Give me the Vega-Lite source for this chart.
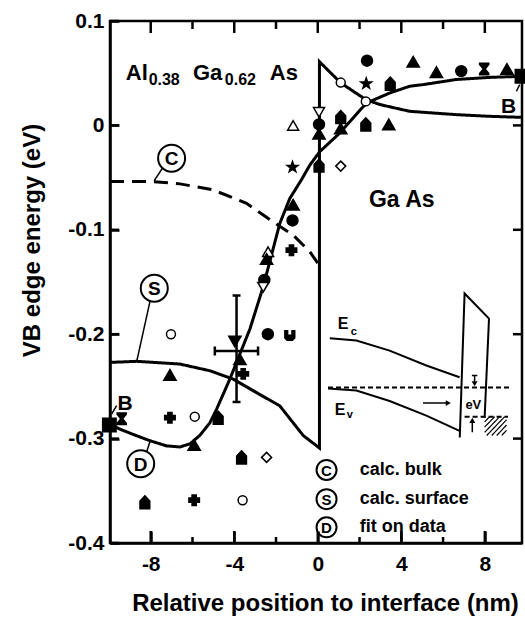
{
  "$schema": "https://vega.github.io/schema/vega-lite/v6.json",
  "width": 412,
  "height": 522,
  "autosize": {"type": "none"},
  "padding": {"left": 110, "top": 21, "right": 3, "bottom": 77},
  "background": "white",
  "config": {
    "view": {"stroke": "black", "strokeWidth": 2.5, "fill": null},
    "font": "Liberation Sans",
    "axis": {"labelFont": "Liberation Sans", "titleFont": "Liberation Sans", "labelColor": "black", "titleColor": "black", "grid": false, "domainColor": "black", "domainWidth": 2.5}
  },
  "datasets": {
    "xticks": [
      {"v": -8, "kind": "major"}, {"v": -6, "kind": "minor"}, {"v": -4, "kind": "major"}, {"v": -2, "kind": "minor"},
      {"v": 0, "kind": "major"}, {"v": 2, "kind": "minor"}, {"v": 4, "kind": "major"}, {"v": 6, "kind": "minor"}, {"v": 8, "kind": "major"}
    ],
    "yticks": [
      {"v": 0.1, "side": "left"}, {"v": 0, "side": "both"}, {"v": -0.1, "side": "both"}, {"v": -0.2, "side": "both"}, {"v": -0.3, "side": "both"}, {"v": -0.4, "side": "left"}
    ],
    "curves": [
      {"curve": "C", "order": 1, "x": -9.95, "y": -0.0538},
      {"curve": "C", "order": 2, "x": -7.88, "y": -0.0538},
      {"curve": "C", "order": 3, "x": -6.6, "y": -0.056},
      {"curve": "C", "order": 4, "x": -5.01, "y": -0.0618},
      {"curve": "C", "order": 5, "x": -3.41, "y": -0.0747},
      {"curve": "C", "order": 6, "x": -2.14, "y": -0.0923},
      {"curve": "C", "order": 7, "x": -1.18, "y": -0.105},
      {"curve": "C", "order": 8, "x": -0.38, "y": -0.121},
      {"curve": "C", "order": 9, "x": 0.0, "y": -0.132},
      {"curve": "S", "order": 1, "x": -9.95, "y": -0.227},
      {"curve": "S", "order": 2, "x": -8.67, "y": -0.226},
      {"curve": "S", "order": 3, "x": -6.6, "y": -0.2286},
      {"curve": "S", "order": 4, "x": -5.17, "y": -0.235},
      {"curve": "S", "order": 5, "x": -4.05, "y": -0.243},
      {"curve": "S", "order": 6, "x": -2.93, "y": -0.256},
      {"curve": "S", "order": 7, "x": -1.82, "y": -0.2686},
      {"curve": "S", "order": 8, "x": -0.7, "y": -0.297},
      {"curve": "S", "order": 9, "x": 0.08, "y": -0.309},
      {"curve": "S", "order": 10, "x": 0.08, "y": 0.061},
      {"curve": "S", "order": 11, "x": 1.1, "y": 0.0407},
      {"curve": "S", "order": 12, "x": 2.3, "y": 0.0247},
      {"curve": "S", "order": 13, "x": 2.97, "y": 0.02},
      {"curve": "S", "order": 14, "x": 4.4, "y": 0.0135},
      {"curve": "S", "order": 15, "x": 6.64, "y": 0.0103},
      {"curve": "S", "order": 16, "x": 8.23, "y": 0.0087},
      {"curve": "S", "order": 17, "x": 9.78, "y": 0.0077},
      {"curve": "D", "order": 1, "x": -9.98, "y": -0.286},
      {"curve": "D", "order": 2, "x": -9.47, "y": -0.291},
      {"curve": "D", "order": 3, "x": -8.84, "y": -0.296},
      {"curve": "D", "order": 4, "x": -8.04, "y": -0.302},
      {"curve": "D", "order": 5, "x": -7.24, "y": -0.307},
      {"curve": "D", "order": 6, "x": -6.6, "y": -0.308},
      {"curve": "D", "order": 7, "x": -6.12, "y": -0.305},
      {"curve": "D", "order": 8, "x": -5.65, "y": -0.297},
      {"curve": "D", "order": 9, "x": -5.17, "y": -0.285},
      {"curve": "D", "order": 10, "x": -4.85, "y": -0.272},
      {"curve": "D", "order": 11, "x": -4.21, "y": -0.243},
      {"curve": "D", "order": 12, "x": -3.73, "y": -0.219},
      {"curve": "D", "order": 13, "x": -3.25, "y": -0.195},
      {"curve": "D", "order": 14, "x": -2.62, "y": -0.155},
      {"curve": "D", "order": 15, "x": -1.82, "y": -0.094},
      {"curve": "D", "order": 16, "x": -1.34, "y": -0.07},
      {"curve": "D", "order": 17, "x": -0.78, "y": -0.052},
      {"curve": "D", "order": 18, "x": -0.38, "y": -0.038},
      {"curve": "D", "order": 19, "x": 0.1, "y": -0.025},
      {"curve": "D", "order": 20, "x": 1.05, "y": -0.0074},
      {"curve": "D", "order": 21, "x": 2.33, "y": 0.0214},
      {"curve": "D", "order": 22, "x": 3.44, "y": 0.031},
      {"curve": "D", "order": 23, "x": 4.4, "y": 0.0375},
      {"curve": "D", "order": 24, "x": 5.02, "y": 0.039},
      {"curve": "D", "order": 25, "x": 6.64, "y": 0.044},
      {"curve": "D", "order": 26, "x": 8.23, "y": 0.046},
      {"curve": "D", "order": 27, "x": 9.78, "y": 0.047}
    ],
    "inset": [
      {"part": "Ec", "order": 1, "x": 0.574, "y": -0.2038},
      {"part": "Ec", "order": 2, "x": 1.85, "y": -0.206},
      {"part": "Ec", "order": 3, "x": 3.44, "y": -0.2157},
      {"part": "Ec", "order": 4, "x": 5.2, "y": -0.23},
      {"part": "Ec", "order": 5, "x": 6.79, "y": -0.2413},
      {"part": "Ev", "order": 1, "x": 0.49, "y": -0.252},
      {"part": "Ev", "order": 2, "x": 1.85, "y": -0.254},
      {"part": "Ev", "order": 3, "x": 3.44, "y": -0.264},
      {"part": "Ev", "order": 4, "x": 5.2, "y": -0.278},
      {"part": "Ev", "order": 5, "x": 6.79, "y": -0.2926},
      {"part": "barrier", "order": 1, "x": 6.8, "y": -0.299},
      {"part": "barrier", "order": 2, "x": 7.03, "y": -0.161},
      {"part": "barrier", "order": 3, "x": 8.2, "y": -0.185},
      {"part": "barrier", "order": 4, "x": 7.99, "y": -0.28}
    ],
    "segments": [
      {"kind": "leader", "x": -7.84, "y": -0.0532, "x2": -7.44, "y2": -0.041},
      {"kind": "leader", "x": -8.04, "y": -0.169, "x2": -8.67, "y2": -0.226},
      {"kind": "leader", "x": -8.2, "y": -0.313, "x2": -8.04, "y2": -0.303},
      {"kind": "leader", "x": -9.87, "y": -0.2765, "x2": -9.63, "y2": -0.2683},
      {"kind": "leader", "x": 9.51, "y": 0.0327, "x2": 9.67, "y2": 0.039},
      {"kind": "errorbar", "x": -3.89, "y": -0.163, "x2": -3.89, "y2": -0.265},
      {"kind": "errorbar", "x": -4.08, "y": -0.163, "x2": -3.7, "y2": -0.163},
      {"kind": "errorbar", "x": -4.08, "y": -0.265, "x2": -3.7, "y2": -0.265},
      {"kind": "errorbar", "x": -4.93, "y": -0.216, "x2": -2.86, "y2": -0.216},
      {"kind": "errorbar", "x": -4.93, "y": -0.2117, "x2": -4.93, "y2": -0.2203},
      {"kind": "errorbar", "x": -2.86, "y": -0.2117, "x2": -2.86, "y2": -0.2203},
      {"kind": "arrow", "x": 7.51, "y": -0.2395, "x2": 7.51, "y2": -0.247},
      {"kind": "arrow", "x": 7.38, "y": -0.2395, "x2": 7.64, "y2": -0.2395},
      {"kind": "arrow", "x": 7.4, "y": -0.294, "x2": 7.4, "y2": -0.285},
      {"kind": "arrow", "x": 5.04, "y": -0.266, "x2": 6.2, "y2": -0.266},
      {"kind": "fermi", "x": 0.49, "y": -0.251, "x2": 9.19, "y2": -0.251},
      {"kind": "fermi", "x": 7.03, "y": -0.279, "x2": 9.11, "y2": -0.279},
      {"kind": "hatch", "x": 7.99, "y": -0.284, "x2": 8.23, "y2": -0.279},
      {"kind": "hatch", "x": 7.99, "y": -0.289, "x2": 8.47, "y2": -0.279},
      {"kind": "hatch", "x": 7.99, "y": -0.294, "x2": 8.71, "y2": -0.279},
      {"kind": "hatch", "x": 8.09, "y": -0.297, "x2": 8.95, "y2": -0.279},
      {"kind": "hatch", "x": 8.33, "y": -0.297, "x2": 9.04, "y2": -0.282},
      {"kind": "hatch", "x": 8.57, "y": -0.297, "x2": 9.04, "y2": -0.287},
      {"kind": "hatch", "x": 8.81, "y": -0.297, "x2": 9.04, "y2": -0.292}
    ],
    "points": [
      {"x": 2.36, "y": 0.062, "marker": "filled circle"},
      {"x": 4.57, "y": 0.061, "marker": "filled triangle"},
      {"x": 2.32, "y": 0.04, "marker": "star"},
      {"x": 1.1, "y": 0.041, "marker": "open circle"},
      {"x": 3.47, "y": 0.04, "marker": "house"},
      {"x": 5.68, "y": 0.051, "marker": "filled triangle"},
      {"x": 6.87, "y": 0.052, "marker": "filled circle"},
      {"x": 7.97, "y": 0.054, "marker": "hourglass"},
      {"x": 9.06, "y": 0.054, "marker": "filled triangle"},
      {"x": 9.78, "y": 0.047, "marker": "filled square"},
      {"x": 0.06, "y": 0.0125, "marker": "open inverted triangle"},
      {"x": 0.06, "y": 0.001, "marker": "filled circle"},
      {"x": 0.06, "y": -0.008, "marker": "filled triangle"},
      {"x": -1.18, "y": 0.0, "marker": "open triangle"},
      {"x": 1.1, "y": 0.008, "marker": "house"},
      {"x": 1.1, "y": -0.003, "marker": "filled triangle"},
      {"x": 2.3, "y": 0.001, "marker": "house"},
      {"x": 3.4, "y": 0.001, "marker": "filled triangle"},
      {"x": -1.21, "y": -0.04, "marker": "star"},
      {"x": 0.06, "y": -0.0385, "marker": "house"},
      {"x": 1.1, "y": -0.039, "marker": "open diamond"},
      {"x": 2.3, "y": 0.023, "marker": "open circle"},
      {"x": -1.18, "y": -0.076, "marker": "filled triangle"},
      {"x": -1.21, "y": -0.091, "marker": "filled circle"},
      {"x": -1.26, "y": -0.1195, "marker": "plus"},
      {"x": -2.38, "y": -0.121, "marker": "open triangle"},
      {"x": -2.45, "y": -0.128, "marker": "filled triangle"},
      {"x": -2.56, "y": -0.148, "marker": "filled circle"},
      {"x": -2.61, "y": -0.155, "marker": "open inverted triangle"},
      {"x": -7.03, "y": -0.2, "marker": "open circle"},
      {"x": -2.39, "y": -0.2, "marker": "filled circle"},
      {"x": -1.34, "y": -0.201, "marker": "cup"},
      {"x": -3.97, "y": -0.207, "marker": "filled inverted triangle"},
      {"x": -3.73, "y": -0.224, "marker": "filled triangle"},
      {"x": -7.08, "y": -0.239, "marker": "filled triangle"},
      {"x": -3.57, "y": -0.238, "marker": "plus"},
      {"x": -9.39, "y": -0.281, "marker": "hourglass"},
      {"x": -9.98, "y": -0.287, "marker": "filled square"},
      {"x": -7.08, "y": -0.28, "marker": "plus"},
      {"x": -5.89, "y": -0.279, "marker": "open circle"},
      {"x": -4.77, "y": -0.28, "marker": "house"},
      {"x": -5.92, "y": -0.306, "marker": "filled triangle"},
      {"x": -3.65, "y": -0.318, "marker": "house"},
      {"x": -2.45, "y": -0.318, "marker": "open diamond"},
      {"x": -8.28, "y": -0.361, "marker": "house"},
      {"x": -5.92, "y": -0.359, "marker": "plus"},
      {"x": -3.6, "y": -0.359, "marker": "open circle"}
    ],
    "arrowheads": [
      {"x": 7.51, "y": -0.2475, "dir": "down"},
      {"x": 7.4, "y": -0.2825, "dir": "up"},
      {"x": 6.25, "y": -0.266, "dir": "right"}
    ],
    "circled": [
      {"letter": "C", "x": -7.0, "y": -0.0314, "group": "chart"},
      {"letter": "S", "x": -7.83, "y": -0.156, "group": "chart"},
      {"letter": "D", "x": -8.48, "y": -0.324, "group": "chart"},
      {"letter": "C", "x": 0.42, "y": -0.33, "group": "legend"},
      {"letter": "S", "x": 0.42, "y": -0.358, "group": "legend"},
      {"letter": "D", "x": 0.42, "y": -0.385, "group": "legend"}
    ],
    "textsLeft": [
      {"text": "Al", "x": -9.19, "y": 0.0433, "role": "formula"},
      {"text": "0.38", "x": -8.1, "y": 0.0391, "role": "subscript"},
      {"text": "Ga", "x": -5.98, "y": 0.0433, "role": "formula"},
      {"text": "0.62", "x": -4.45, "y": 0.0391, "role": "subscript"},
      {"text": "As", "x": -2.3, "y": 0.0433, "role": "formula"},
      {"text": "E", "x": 0.96, "y": -0.195, "role": "band"},
      {"text": "c", "x": 1.58, "y": -0.201, "role": "bandsub"},
      {"text": "E", "x": 0.81, "y": -0.277, "role": "band"},
      {"text": "v", "x": 1.39, "y": -0.28, "role": "bandsub"}
    ],
    "textsCenter": [
      {"text": "Ga As", "x": 4.02, "y": -0.078, "role": "big"},
      {"text": "B", "x": -9.23, "y": -0.273, "role": "b"},
      {"text": "B", "x": 9.14, "y": 0.0115, "role": "b"},
      {"text": "eV", "x": 7.45, "y": -0.272, "role": "ev"}
    ],
    "legendText": [
      {"text": "calc. bulk", "x": 2.01, "y": -0.33},
      {"text": "calc. surface", "x": 2.01, "y": -0.358},
      {"text": "fit on data", "x": 2.01, "y": -0.385}
    ]
  },
  "resolve": {
    "axis": {"x": "independent", "y": "independent"},
    "scale": {"shape": "independent", "fill": "independent", "size": "independent", "strokeDash": "independent", "strokeWidth": "independent"}
  },
  "layer": [
    {
      "data": {"name": "curves"},
      "mark": {"type": "line", "strokeWidth": 3, "color": "black", "strokeCap": "butt"},
      "encoding": {
        "x": {"field": "x", "type": "quantitative", "scale": {"domain": [-9.95, 9.78], "nice": false, "zero": false}, "axis": null},
        "y": {"field": "y", "type": "quantitative", "scale": {"domain": [-0.4, 0.1], "nice": false, "zero": false}, "axis": null},
        "detail": {"field": "curve"},
        "order": {"field": "order", "type": "quantitative"},
        "strokeDash": {"field": "curve", "type": "nominal", "scale": {"domain": ["C", "D", "S"], "range": [[14, 8], [1, 0], [1, 0]]}, "legend": null}
      }
    },
    {
      "data": {"name": "inset"},
      "mark": {"type": "line", "strokeWidth": 2, "color": "black"},
      "encoding": {
        "x": {"field": "x", "type": "quantitative", "scale": {"domain": [-9.95, 9.78], "nice": false, "zero": false}, "axis": null},
        "y": {"field": "y", "type": "quantitative", "scale": {"domain": [-0.4, 0.1], "nice": false, "zero": false}, "axis": null},
        "detail": {"field": "part"},
        "order": {"field": "order", "type": "quantitative"}
      }
    },
    {
      "data": {"name": "segments"},
      "mark": {"type": "rule", "color": "black"},
      "encoding": {
        "x": {"field": "x", "type": "quantitative", "scale": {"domain": [-9.95, 9.78], "nice": false, "zero": false}, "axis": null},
        "y": {"field": "y", "type": "quantitative", "scale": {"domain": [-0.4, 0.1], "nice": false, "zero": false}, "axis": null},
        "x2": {"field": "x2"},
        "y2": {"field": "y2"},
        "strokeDash": {"field": "kind", "type": "nominal", "scale": {"domain": ["leader", "errorbar", "arrow", "fermi", "hatch"], "range": [[1, 0], [1, 0], [1, 0], [5, 3], [1, 0]]}, "legend": null},
        "strokeWidth": {"field": "kind", "type": "nominal", "scale": {"type": "ordinal", "domain": ["leader", "errorbar", "arrow", "fermi", "hatch"], "range": [1.5, 2.5, 1.5, 2, 1.2]}, "legend": null}
      }
    },
    {
      "data": {"name": "xticks"},
      "transform": [{"filter": "datum.kind === 'major'"}],
      "mark": {"type": "tick", "orient": "vertical", "size": 12, "thickness": 2.5, "color": "black", "opacity": 1, "yOffset": -6},
      "encoding": {
        "x": {"field": "v", "type": "quantitative", "scale": {"domain": [-9.95, 9.78], "nice": false, "zero": false}, "axis": null},
        "y": {"datum": -0.4, "type": "quantitative", "scale": {"domain": [-0.4, 0.1], "nice": false, "zero": false}, "axis": null}
      }
    },
    {
      "data": {"name": "xticks"},
      "transform": [{"filter": "datum.kind === 'minor'"}],
      "mark": {"type": "tick", "orient": "vertical", "size": 6, "thickness": 2.5, "color": "black", "opacity": 1, "yOffset": -3},
      "encoding": {
        "x": {"field": "v", "type": "quantitative", "scale": {"domain": [-9.95, 9.78], "nice": false, "zero": false}, "axis": null},
        "y": {"datum": -0.4, "type": "quantitative", "scale": {"domain": [-0.4, 0.1], "nice": false, "zero": false}, "axis": null}
      }
    },
    {
      "data": {"name": "xticks"},
      "transform": [{"filter": "datum.kind === 'major'"}],
      "mark": {"type": "tick", "orient": "vertical", "size": 12, "thickness": 2.5, "color": "black", "opacity": 1, "yOffset": 6},
      "encoding": {
        "x": {"field": "v", "type": "quantitative", "scale": {"domain": [-9.95, 9.78], "nice": false, "zero": false}, "axis": null},
        "y": {"datum": 0.1, "type": "quantitative", "scale": {"domain": [-0.4, 0.1], "nice": false, "zero": false}, "axis": null}
      }
    },
    {
      "data": {"name": "xticks"},
      "transform": [{"filter": "datum.kind === 'minor'"}],
      "mark": {"type": "tick", "orient": "vertical", "size": 8, "thickness": 2.5, "color": "black", "opacity": 1, "yOffset": 4},
      "encoding": {
        "x": {"field": "v", "type": "quantitative", "scale": {"domain": [-9.95, 9.78], "nice": false, "zero": false}, "axis": null},
        "y": {"datum": 0.1, "type": "quantitative", "scale": {"domain": [-0.4, 0.1], "nice": false, "zero": false}, "axis": null}
      }
    },
    {
      "data": {"name": "yticks"},
      "mark": {"type": "tick", "orient": "horizontal", "size": 9, "thickness": 2.5, "color": "black", "opacity": 1, "xOffset": 4.5},
      "encoding": {
        "x": {"datum": -9.95, "type": "quantitative", "scale": {"domain": [-9.95, 9.78], "nice": false, "zero": false}, "axis": null},
        "y": {"field": "v", "type": "quantitative", "scale": {"domain": [-0.4, 0.1], "nice": false, "zero": false}, "axis": null}
      }
    },
    {
      "data": {"name": "yticks"},
      "transform": [{"filter": "datum.side === 'both'"}],
      "mark": {"type": "tick", "orient": "horizontal", "size": 9, "thickness": 2.5, "color": "black", "opacity": 1, "xOffset": -4.5},
      "encoding": {
        "x": {"datum": 9.78, "type": "quantitative", "scale": {"domain": [-9.95, 9.78], "nice": false, "zero": false}, "axis": null},
        "y": {"field": "v", "type": "quantitative", "scale": {"domain": [-0.4, 0.1], "nice": false, "zero": false}, "axis": null}
      }
    },
    {
      "data": {"name": "points"},
      "mark": {"type": "point", "stroke": "black", "strokeWidth": 1.5, "opacity": 1},
      "encoding": {
        "x": {"field": "x", "type": "quantitative", "scale": {"domain": [-9.95, 9.78], "nice": false, "zero": false},
          "axis": {"orient": "bottom", "values": [-8, -4, 0, 4, 8], "labelExpr": "datum.value < 0 ? '-' + abs(datum.value) : '' + datum.value", "tickSize": -12, "tickColor": "black", "tickWidth": 2.5, "labelPadding": 22, "labelFontSize": 21, "labelFontWeight": "bold", "labelFlush": false, "labelOverlap": false, "title": "Relative position to interface (nm)", "titleFontSize": 24, "titleFontWeight": "bold", "titleX": 215, "titleY": 67, "titleBaseline": "alphabetic", "titleAlign": "center", "zindex": 1}},
        "y": {"field": "y", "type": "quantitative", "scale": {"domain": [-0.4, 0.1], "nice": false, "zero": false},
          "axis": {"orient": "left", "values": [0.1, 0, -0.1, -0.2, -0.3, -0.4], "labelExpr": "datum.value === 0 ? '0' : (datum.value < 0 ? '-' : '') + format(abs(datum.value), '.1f')", "tickSize": -9, "tickColor": "black", "tickWidth": 2.5, "labelPadding": 15, "labelFontSize": 21, "labelFontWeight": "bold", "labelFlush": false, "labelOverlap": false, "title": "VB edge energy (eV)", "titleFontSize": 24, "titleFontWeight": "bold", "titleX": -78, "titleY": 219, "titleAngle": -90, "titleBaseline": "middle", "titleAlign": "center", "zindex": 1}},
        "shape": {"field": "marker", "type": "nominal", "legend": null, "scale": {
          "domain": ["filled circle", "open circle", "filled triangle", "open triangle", "filled inverted triangle", "open inverted triangle", "open diamond", "plus", "star", "hourglass", "house", "cup", "filled square"],
          "range": ["circle", "circle", "triangle-up", "triangle-up", "triangle-down", "triangle-down", "diamond", "cross",
            "M0,-1L0.235,-0.324L0.951,-0.309L0.38,0.124L0.588,0.809L0,0.4L-0.588,0.809L-0.38,0.124L-0.951,-0.309L-0.235,-0.324Z",
            "M-0.8,-1L0.8,-1L0.8,-0.8L0.15,0L0.8,0.8L0.8,1L-0.8,1L-0.8,0.8L-0.15,0L-0.8,-0.8Z",
            "M0,-1L0.75,-0.2L0.75,1L-0.75,1L-0.75,-0.2Z",
            "M-0.9,-0.8L-0.4,-0.8L-0.4,0L0.4,0L0.4,-0.8L0.9,-0.8L0.9,0.5L0.5,0.9L-0.5,0.9L-0.9,0.5Z",
            "square"]}},
        "fill": {"field": "marker", "type": "nominal", "legend": null, "scale": {
          "domain": ["filled circle", "open circle", "filled triangle", "open triangle", "filled inverted triangle", "open inverted triangle", "open diamond", "plus", "star", "hourglass", "house", "cup", "filled square"],
          "range": ["black", "white", "black", "white", "black", "white", "white", "black", "black", "black", "black", "black", "black"]}},
        "size": {"field": "marker", "type": "nominal", "legend": null, "scale": {"type": "ordinal",
          "domain": ["filled circle", "open circle", "filled triangle", "open triangle", "filled inverted triangle", "open inverted triangle", "open diamond", "plus", "star", "hourglass", "house", "cup", "filled square"],
          "range": [120, 80, 150, 120, 150, 120, 100, 110, 130, 130, 170, 120, 180]}}
      }
    },
    {
      "data": {"name": "arrowheads"},
      "mark": {"type": "point", "filled": true, "color": "black", "size": 35, "opacity": 1},
      "encoding": {
        "x": {"field": "x", "type": "quantitative", "scale": {"domain": [-9.95, 9.78], "nice": false, "zero": false}, "axis": null},
        "y": {"field": "y", "type": "quantitative", "scale": {"domain": [-0.4, 0.1], "nice": false, "zero": false}, "axis": null},
        "shape": {"field": "dir", "type": "nominal", "legend": null, "scale": {"domain": ["down", "up", "right"], "range": ["triangle-down", "triangle-up", "triangle-right"]}}
      }
    },
    {
      "data": {"name": "circled"},
      "mark": {"type": "point", "shape": "circle", "filled": false, "stroke": "black", "strokeWidth": 2, "fill": "white", "opacity": 1},
      "encoding": {
        "x": {"field": "x", "type": "quantitative", "scale": {"domain": [-9.95, 9.78], "nice": false, "zero": false}, "axis": null},
        "y": {"field": "y", "type": "quantitative", "scale": {"domain": [-0.4, 0.1], "nice": false, "zero": false}, "axis": null},
        "size": {"field": "group", "type": "nominal", "legend": null, "scale": {"type": "ordinal", "domain": ["chart", "legend"], "range": [729, 400]}}
      }
    },
    {
      "data": {"name": "circled"},
      "mark": {"type": "text", "font": "Liberation Sans", "fontWeight": "bold", "align": "center", "baseline": "middle", "color": "black", "dy": 1},
      "encoding": {
        "x": {"field": "x", "type": "quantitative", "scale": {"domain": [-9.95, 9.78], "nice": false, "zero": false}, "axis": null},
        "y": {"field": "y", "type": "quantitative", "scale": {"domain": [-0.4, 0.1], "nice": false, "zero": false}, "axis": null},
        "text": {"field": "letter"},
        "size": {"field": "group", "type": "nominal", "legend": null, "scale": {"type": "ordinal", "domain": ["chart", "legend"], "range": [19, 15]}}
      }
    },
    {
      "data": {"name": "textsLeft"},
      "mark": {"type": "text", "font": "Liberation Sans", "fontWeight": "bold", "align": "left", "baseline": "alphabetic", "color": "black"},
      "encoding": {
        "x": {"field": "x", "type": "quantitative", "scale": {"domain": [-9.95, 9.78], "nice": false, "zero": false}, "axis": null},
        "y": {"field": "y", "type": "quantitative", "scale": {"domain": [-0.4, 0.1], "nice": false, "zero": false}, "axis": null},
        "text": {"field": "text"},
        "size": {"field": "role", "type": "nominal", "legend": null, "scale": {"type": "ordinal", "domain": ["formula", "subscript", "band", "bandsub"], "range": [22, 16, 16, 11]}}
      }
    },
    {
      "data": {"name": "textsCenter"},
      "mark": {"type": "text", "font": "Liberation Sans", "fontWeight": "bold", "align": "center", "baseline": "alphabetic", "color": "black"},
      "encoding": {
        "x": {"field": "x", "type": "quantitative", "scale": {"domain": [-9.95, 9.78], "nice": false, "zero": false}, "axis": null},
        "y": {"field": "y", "type": "quantitative", "scale": {"domain": [-0.4, 0.1], "nice": false, "zero": false}, "axis": null},
        "text": {"field": "text"},
        "size": {"field": "role", "type": "nominal", "legend": null, "scale": {"type": "ordinal", "domain": ["big", "b", "ev"], "range": [23, 21, 13]}}
      }
    },
    {
      "data": {"name": "legendText"},
      "mark": {"type": "text", "font": "Liberation Sans", "fontWeight": "bold", "align": "left", "baseline": "middle", "color": "black", "fontSize": 18},
      "encoding": {
        "x": {"field": "x", "type": "quantitative", "scale": {"domain": [-9.95, 9.78], "nice": false, "zero": false}, "axis": null},
        "y": {"field": "y", "type": "quantitative", "scale": {"domain": [-0.4, 0.1], "nice": false, "zero": false}, "axis": null},
        "text": {"field": "text"}
      }
    }
  ]
}
